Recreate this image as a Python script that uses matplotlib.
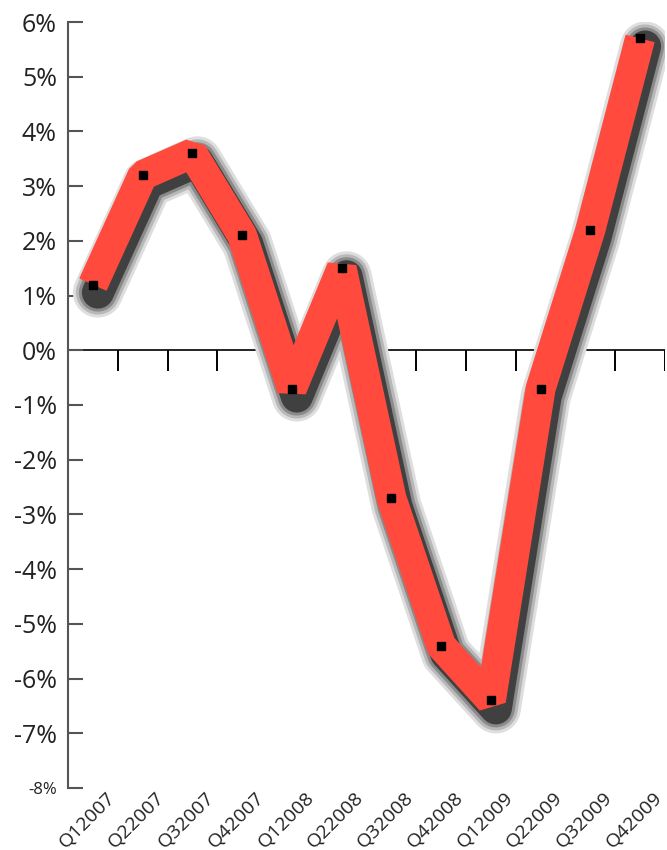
import matplotlib
matplotlib.use("Agg")
import matplotlib.pyplot as plt
import matplotlib.transforms as mtransforms
import numpy as np

plt.rcParams['font.family'] = ['Open Sans', 'DejaVu Sans']

#### data ####
quarters = ["Q12007", "Q22007", "Q32007", "Q42007",
            "Q12008", "Q22008", "Q32008", "Q42008",
            "Q12009", "Q22009", "Q32009", "Q42009"]
growth = [1.2, 3.2, 3.6, 2.1, -0.7, 1.5, -2.7, -5.4, -6.4, -0.7, 2.2, 5.7]
y_ticks = [6, 5, 4, 3, 2, 1, 0, -1, -2, -3, -4, -5, -6, -7, -8]

#### figure ####
fig = plt.figure(figsize=(6.67, 8.5), dpi=100)
ax = fig.add_axes([68 / 667, 1 - 788 / 850, 597 / 667, 766 / 850])

x = np.arange(len(quarters))
ax.set_xlim(-0.5, len(quarters) - 0.5)
ax.set_ylim(-8, 6)

# zero line and its little ticks
ax.axhline(0, color="black", lw=1.2, zorder=1)
ax.vlines(np.arange(len(quarters)) + 0.5, -0.37, 0, color="black", lw=1.4, zorder=1)

# shadow: several grey layers, shifted down/right
px = 0.72  # points per pixel at dpi 100
shift = mtransforms.offset_copy(ax.transData, fig=fig, x=5, y=-8, units="dots")
for col, w in [("#dedede", 50), ("#b8b8b8", 44), ("#8a8a8a", 38), ("#404040", 32)]:
    ax.plot(x, growth, color=col, lw=w * px, solid_joinstyle="round",
            solid_capstyle="round", transform=shift, zorder=2)

# ribbon: one flat band with cut corners
ax.plot(x, growth, color="#ff4a3d", lw=30 * px, solid_joinstyle="bevel",
        solid_capstyle="butt", zorder=3)

ax.plot(x, growth, "s", color="black", ms=6, zorder=4)

# axes look
for side in ["top", "right", "bottom"]:
    ax.spines[side].set_visible(False)
ax.spines["left"].set_color("#555555")
ax.spines["left"].set_linewidth(1.5)

ax.set_yticks(y_ticks)
ax.set_yticklabels([f"{v}%" for v in y_ticks], fontsize=18, color="#222222")
ax.get_yticklabels()[-1].set_fontsize(12)
ax.tick_params(axis="y", direction="in", length=11, width=1.5, color="#555555", pad=8)

ax.set_xticks([])
for i, q in enumerate(quarters):
    ax.text(i + 0.46, -8.19, q, rotation=45, ha="right", va="baseline",
            rotation_mode="anchor", fontsize=14, color="#222222")

fig.savefig("out.png", dpi=100)
